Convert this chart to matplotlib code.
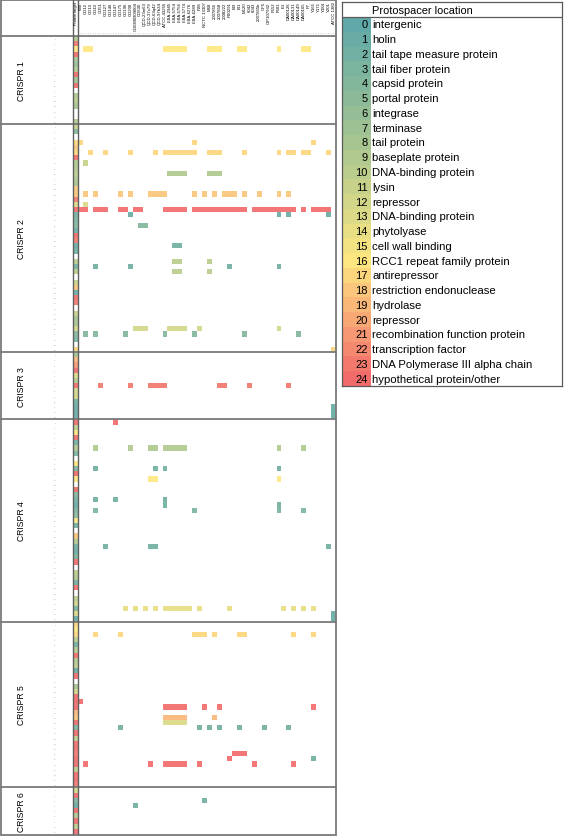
import numpy as np
import matplotlib
matplotlib.use("Agg")
import matplotlib.pyplot as plt
from matplotlib.colors import LinearSegmentedColormap, Normalize
from matplotlib.patches import Rectangle

plt.rcParams['font.family'] = ['Liberation Sans', 'DejaVu Sans']

# ---------------- data ----------------
strains = ["630", "CD12", "CD13", "CD43", "CD51", "CD127", "CD146", "CD147", "CD175",
           "CD196", "CD200", "CDEM0909004", "CD630", "QCD-23m63", "QCD-37x79", "QCD-63q42",
           "QCD-97b34", "ATCC 43255", "LIBA-2945", "LIBA-5754", "LIBA-5756", "LIBA-5774",
           "LIBA-6276", "LIBA-6289", "P28", "NCTC 13307", "M68", "2007855", "2007858",
           "2008222", "R20291", "BI9", "BI1", "M120", "6042", "6043", "2007855b", "CF5",
           "CIP107932", "F152", "F501", "E1", "DA00126", "DA00131", "DA00149", "DA00165",
           "F7", "Y165", "Y171", "Y184", "Y201", "ATCC 1382"]

groups = ["CRISPR 1", "CRISPR 2", "CRISPR 3", "CRISPR 4", "CRISPR 5", "CRISPR 6"]

# protein target of each spacer (None = no value)
protein_crispr1 = [9, 23, 16, 24, 8, 6, 9, 24, 7, 24, None, 9, 10, 8, None, None, 9]
protein_crispr2 = [11, 4, None, 17, 18, 17, 24, 9, 9, 10, 9, 8, 18, 18, 23, 13, 24, 2, 3, 4,
                   1, 24, 23, 1, 2, None, 10, 2, 10, None, 11, 18, 1, 24, 23, None, 11, 8,
                   8, 12, 4, 3, None, 17]
protein_crispr3 = [8, 19, 21, 24, 13, 9, 24, 12, 12, 2, 1, 1, 1]
protein_crispr4 = [24, 10, 16, 24, 2, 9, 3, None, 16, 3, 24, 16, None, 24, 4, 2, 1, 3, 5, 16,
                   2, None, 18, 9, 2, 1, 3, 24, None, 10, 9, 2, 24, None, 10, 12, 3, 13, 1]
protein_crispr5 = [17, 16, 17, 10, 2, 9, 24, 9, 10, 1, 24, None, 8, 12, 24, 24, 24, 19, 18,
                   24, 3, 24, 10, 24, 24, 23, 24, 24, 10, 24, 24, 23]
protein_crispr6 = [12, 24, 3, 1, 24, 9, 24, 10, 24]

# protospacer hits: (spacer row, first strain column, last strain column, location code)
hits_crispr1 = [(2, 1, 2, 16), (2, 17, 21, 16), (2, 26, 28, 16), (2, 32, 33, 16),
                (2, 40, 40, 16), (2, 45, 46, 16)]
hits_crispr2 = [(3, 0, 0, 17), (3, 23, 23, 17), (3, 47, 47, 17),
                (5, 2, 2, 17), (5, 5, 5, 17), (5, 10, 10, 17), (5, 15, 15, 17), (5, 17, 23, 17),
                (5, 26, 28, 17), (5, 33, 33, 17), (5, 40, 40, 17), (5, 42, 43, 17),
                (5, 45, 46, 17), (5, 50, 50, 17),
                (7, 1, 1, 11),
                (9, 18, 21, 9), (9, 26, 28, 9),
                (13, 1, 1, 18), (13, 3, 3, 18), (13, 8, 8, 18), (13, 10, 10, 18),
                (13, 14, 17, 18), (13, 23, 23, 18), (13, 25, 25, 18), (13, 27, 27, 18),
                (13, 29, 31, 18), (13, 33, 33, 18), (13, 36, 36, 18), (13, 40, 40, 18),
                (13, 42, 42, 18),
                (15, 1, 1, 13),
                (16, 0, 1, 24), (16, 3, 5, 24), (16, 8, 9, 24), (16, 11, 12, 24),
                (16, 17, 21, 24), (16, 23, 31, 24), (16, 32, 33, 24), (16, 35, 43, 24),
                (16, 45, 45, 24), (16, 47, 50, 24),
                (17, 10, 10, 1), (17, 40, 40, 1), (17, 42, 42, 1), (17, 50, 50, 1),
                (19, 12, 13, 4),
                (23, 19, 20, 2),
                (26, 19, 20, 10), (26, 26, 26, 10),
                (27, 3, 3, 2), (27, 10, 10, 2), (27, 30, 30, 2), (27, 40, 40, 2),
                (28, 19, 20, 10), (28, 26, 26, 10),
                (39, 11, 13, 12), (39, 18, 21, 12), (39, 24, 24, 12), (39, 40, 40, 12),
                (40, 1, 1, 4), (40, 3, 3, 4), (40, 9, 9, 4), (40, 17, 17, 4), (40, 23, 23, 4),
                (40, 33, 33, 4), (40, 44, 44, 4),
                (43, 51, 51, 17)]
hits_crispr3 = [(6, 4, 4, 23), (6, 10, 10, 23), (6, 14, 17, 23), (6, 28, 29, 23),
                (6, 34, 34, 23), (6, 42, 42, 23),
                (10, 51, 51, 1), (11, 51, 51, 1), (12, 51, 51, 1)]
hits_crispr4 = [(0, 7, 7, 24),
                (5, 3, 3, 9), (5, 10, 10, 9), (5, 14, 15, 9), (5, 17, 21, 9), (5, 40, 40, 9),
                (5, 45, 45, 9),
                (9, 3, 3, 2), (9, 15, 15, 2), (9, 17, 17, 2), (9, 40, 40, 2),
                (11, 14, 15, 16), (11, 40, 40, 16),
                (15, 3, 3, 2), (15, 7, 7, 2), (15, 17, 17, 2), (16, 17, 17, 2), (16, 40, 40, 2),
                (17, 3, 3, 3), (17, 23, 23, 3), (17, 40, 40, 3), (17, 45, 45, 3),
                (24, 5, 5, 2), (24, 14, 15, 2), (24, 50, 50, 2),
                (36, 9, 9, 14), (36, 11, 11, 14), (36, 13, 13, 14), (36, 15, 15, 14),
                (36, 17, 22, 14), (36, 24, 24, 14), (36, 30, 30, 14), (36, 41, 41, 14),
                (36, 43, 43, 14), (36, 45, 45, 14), (36, 47, 47, 14),
                (37, 51, 51, 1), (38, 51, 51, 1)]
hits_crispr5 = [(2, 3, 3, 17), (2, 8, 8, 17), (2, 23, 25, 17), (2, 27, 27, 17), (2, 32, 33, 17),
                (2, 43, 43, 17), (2, 47, 47, 17),
                (15, 0, 0, 24),
                (16, 17, 21, 24), (16, 25, 25, 24), (16, 28, 28, 24), (16, 47, 47, 24),
                (18, 17, 21, 19), (18, 27, 27, 19),
                (19, 17, 21, 13),
                (20, 8, 8, 2), (20, 24, 24, 2), (20, 26, 26, 2), (20, 28, 28, 2), (20, 32, 32, 2),
                (20, 37, 37, 2), (20, 42, 42, 2),
                (25, 31, 33, 24),
                (26, 30, 30, 24), (26, 47, 47, 2),
                (27, 1, 1, 24), (27, 14, 14, 24), (27, 17, 21, 24), (27, 24, 24, 24),
                (27, 35, 35, 24), (27, 43, 43, 24)]
hits_crispr6 = [(2, 25, 25, 2), (3, 11, 11, 2)]

legend_codes = list(range(25))
legend_labels = ["intergenic", "holin", "tail tape measure protein", "tail fiber protein",
                 "capsid protein", "portal protein", "integrase", "terminase", "tail protein",
                 "baseplate protein", "DNA-binding protein", "lysin", "repressor",
                 "DNA-binding protein", "phytolyase", "cell wall binding",
                 "RCC1 repeat family protein", "antirepressor", "restriction endonuclease",
                 "hydrolase", "repressor", "recombination function protein",
                 "transcription factor", "DNA Polymerase III alpha chain",
                 "hypothetical protein/other"]

proteins = [protein_crispr1, protein_crispr2, protein_crispr3, protein_crispr4,
            protein_crispr5, protein_crispr6]
hits = [hits_crispr1, hits_crispr2, hits_crispr3, hits_crispr4, hits_crispr5, hits_crispr6]

# ---------------- figure ----------------
W, H = 567, 837
fig = plt.figure(figsize=(W / 100, H / 100), dpi=100)

cmap = LinearSegmentedColormap.from_list(
    "loc", [(0, "#60a9a8"), (8 / 24, "#a6c590"), (16 / 24, "#fde680"), (1, "#f26b6b")])
norm = Normalize(0, 24)

X0, X1 = 73.3, 336.0
Y0, Y1 = 37.0, 835.0
ncols = 1 + len(strains)
sizes = [len(p) for p in proteins]
nrows = sum(sizes)
starts = np.concatenate([[0], np.cumsum(sizes)])

M = np.full((nrows, ncols), np.nan)
for g in range(len(groups)):
    for i, v in enumerate(proteins[g]):
        if v is not None:
            M[starts[g] + i, 0] = v
    for (r, c0, c1, v) in hits[g]:
        M[starts[g] + r, 1 + c0:2 + c1] = v

ax = fig.add_axes([X0 / W, 1 - Y1 / H, (X1 - X0) / W, (Y1 - Y0) / H])
ax.set_xlim(0, ncols)
ax.set_ylim(nrows, 0)
ax.axis("off")
ax.pcolormesh(np.arange(ncols + 1), np.arange(nrows + 1), np.ma.masked_invalid(M),
              cmap=cmap, norm=norm, alpha=0.92, edgecolors="none")

sx = ncols / (X1 - X0)
sy = nrows / (Y1 - Y0)


def dx(px):
    return (px - X0) * sx


def dy(py):
    return (py - Y0) * sy


lc = "#7a7a7a"
# outer frame
ax.add_patch(Rectangle((dx(0.8), dy(0.8)), dx(336) - dx(0.8), dy(835.5) - dy(0.8),
                       fill=False, ec=lc, lw=1.3, clip_on=False))
# group separators (and header bottom)
for b in starts[:-1]:
    ax.plot([dx(0.8), dx(336)], [b, b], color=lc, lw=1.3, clip_on=False)
# protein-target column borders
for xv in (0, 1):
    ax.plot([xv, xv], [dy(0.8), nrows], color="#606060", lw=1.0, clip_on=False)
# dotted line in header
ax.plot([dx(80), dx(335)], [dy(34), dy(34)], color="#c0c0c0", lw=0.6,
        ls=(0, (1, 2)), clip_on=False)

# column headers
ax.text(0.5, dy(2.5), "Protein target", rotation=90, ha="center", va="top",
        fontsize=2.8, clip_on=False)
for j, s in enumerate(strains):
    ax.text(j + 1.5, dy(2.5), s, rotation=90, ha="center", va="top",
            fontsize=3.1, clip_on=False)

# group labels and spacer numbers
for g, name in enumerate(groups):
    mid = (starts[g] + starts[g + 1]) / 2
    ax.text(dx(22), mid, name, rotation=90, ha="center", va="center", fontsize=6.2,
            clip_on=False)
    for i in range(sizes[g]):
        ax.text(dx(55), starts[g] + i + 0.5, str(i + 1), ha="center", va="center",
                fontsize=1.6, color="#9a9a9a", clip_on=False)

# ---------------- legend table ----------------
LX0, LX1, LY0, LY1 = 341.5, 562.0, 3.0, 387.0
lax = fig.add_axes([LX0 / W, 1 - LY1 / H, (LX1 - LX0) / W, (LY1 - LY0) / H])
lw_, lh_ = LX1 - LX0, LY1 - LY0
lax.set_xlim(0, lw_)
lax.set_ylim(lh_, 0)
lax.set_xticks([])
lax.set_yticks([])
for sp in lax.spines.values():
    sp.set_color("#5a5a5a")
    sp.set_linewidth(0.9)
head = 15.0
rowh = (lh_ - head) / len(legend_codes)
edges = head + rowh * np.arange(len(legend_codes) + 1)
lax.pcolormesh([1.5, 29.0], edges, np.array(legend_codes, dtype=float).reshape(-1, 1),
               cmap=cmap, norm=norm, edgecolors="none")
lax.axhline(head, color="#5a5a5a", lw=0.9)
lax.text(31.0, head / 2 + 0.5, "Protospacer location", ha="left", va="center", fontsize=7.9)
for k, (code, lab) in enumerate(zip(legend_codes, legend_labels)):
    yc = head + rowh * (k + 0.5)
    lax.text(26.0, yc, str(code), ha="right", va="center", fontsize=8.0)
    lax.text(31.0, yc, lab, ha="left", va="center", fontsize=8.2)

fig.savefig("out.png", dpi=100)
